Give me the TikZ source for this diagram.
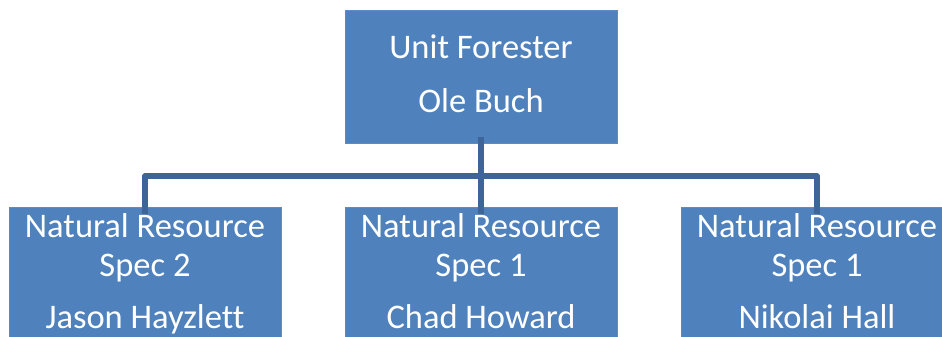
\documentclass[tikz,border=0pt]{standalone}
\usepackage{fontspec}
\setmainfont[Ligatures=NoCommon]{Carlito}
\definecolor{boxfill}{HTML}{4F81BD}
\definecolor{boxedge}{HTML}{5B8CC6}
\definecolor{connc}{HTML}{3E6597}
\begin{document}
\begin{tikzpicture}[x=1pt,y=-1pt,
  orgbox/.style={draw=boxedge,line width=0.8pt,fill=boxfill,minimum width=272pt,inner sep=0pt,outer sep=0pt},
  txt/.style={text=white,font=\fontsize{34.5}{41}\selectfont,anchor=base,inner sep=0pt},
  conn/.style={draw=connc,line width=5.5pt,line join=round}]
\useasboundingbox (0,0) rectangle (942,337);
\clip (0,0) rectangle (942,337);
\node[orgbox,minimum height=133pt] (top) at (481,76.5) {};
\node[orgbox,minimum height=140pt,anchor=north] (l) at (145,207.5) {};
\node[orgbox,minimum height=140pt,anchor=north] (m) at (481,207.5) {};
\node[orgbox,minimum height=140pt,anchor=north] (r) at (817,207.5) {};
\node[txt] (t1) at (481,59) {Unit Forester};
\node[txt] (t2) at (481,112) {Ole Buch};
\node[txt] (l1) at (145,237) {Natural Resource};
\node[txt] (l2) at (145,276) {Spec 2};
\node[txt] (l3) at (145,328) {Jason Hayzlett};
\node[txt] (m1) at (481,237) {Natural Resource};
\node[txt] (m2) at (481,276) {Spec 1};
\node[txt] (m3) at (481,328) {Chad Howard};
\node[txt] (r1) at (817,237) {Natural Resource};
\node[txt] (r2) at (817,276) {Spec 1};
\node[txt] (r3) at (817,328) {Nikolai Hall};
\coordinate (bus) at (481,176);
\draw[conn] ([yshift=6pt]top.south) -- ([yshift=-6pt]m.north);
\draw[conn] ([yshift=-6pt]l.north) |- (bus) -| ([yshift=-6pt]r.north);
\end{tikzpicture}
\end{document}
